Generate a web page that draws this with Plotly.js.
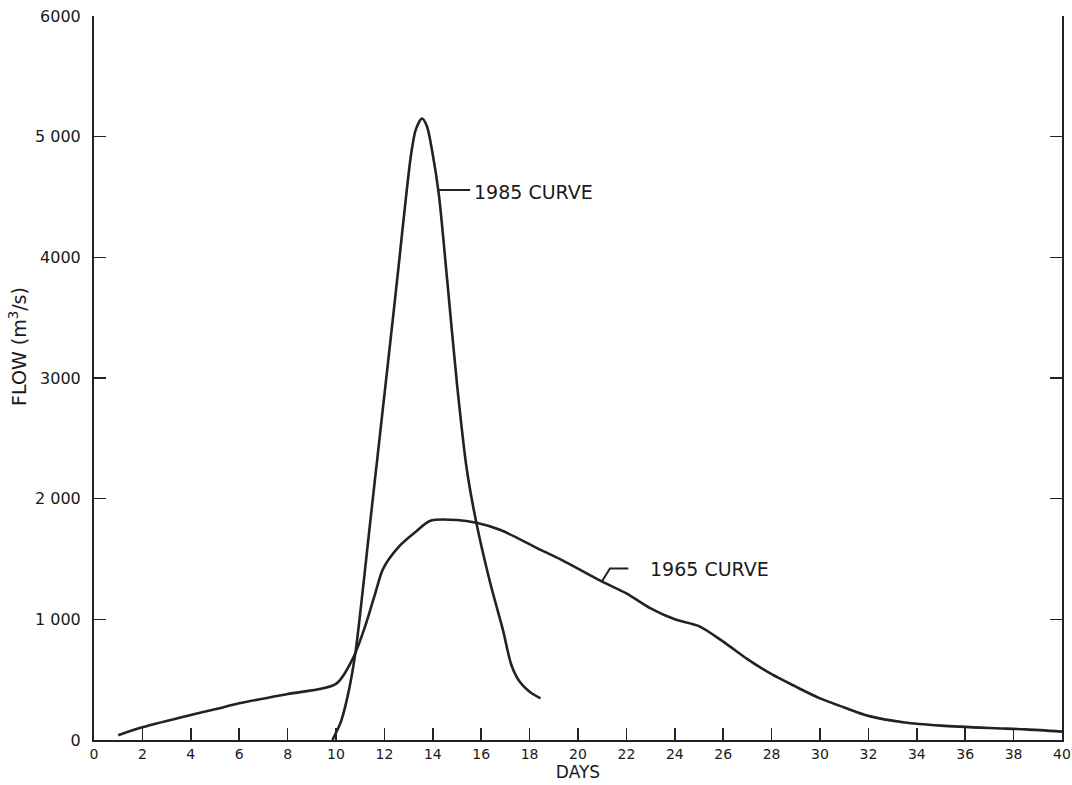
<!DOCTYPE html>
<html>
<head>
<meta charset="utf-8">
<script src="https://cdn.plot.ly/plotly-3.0.1.min.js"></script>
<style>html,body{margin:0;padding:0;background:#fff;}#chart{width:1072px;height:785px;}</style>
</head>
<body>
<div id="chart"></div>
<script>
// 1965 hydrograph (days, flow m3/s)
const days1965 = [1, 2, 4, 5, 6, 8, 10, 10.7, 11.2, 11.6, 11.95, 12.6, 13.3, 13.9, 15, 15.8, 16.8, 18.2, 19.3, 21, 22, 23, 24, 25, 26, 27, 28, 29, 30, 31, 32, 33.5, 35, 37, 38.5, 40];
const flow1965 = [40, 105, 207, 254, 304, 381, 465, 677, 940, 1200, 1420, 1602, 1726, 1817, 1823, 1800, 1740, 1601, 1495, 1312, 1215, 1091, 1000, 944, 815, 670, 545, 442, 345, 270, 200, 145, 119, 99, 88, 69];
// 1985 hydrograph
const days1985 = [9.85, 10.2, 10.5, 10.8, 11.1, 11.4, 11.7, 12.0, 12.3, 12.6, 12.85, 13.1, 13.3, 13.55, 13.75, 14.0, 14.25, 14.6, 15.0, 15.4, 15.8, 16.35, 16.9, 17.25, 17.6, 18.0, 18.45];
const flow1985 = [0, 150, 380, 720, 1230, 1780, 2320, 2860, 3400, 3950, 4420, 4850, 5060, 5150, 5090, 4850, 4520, 3800, 2950, 2250, 1800, 1320, 910, 620, 480, 400, 345];
// axis ticks
const xTicks = [0,2,4,6,8,10,12,14,16,18,20,22,24,26,28,30,32,34,36,38,40];
const yTickVals = [0, 1000, 2000, 3000, 4000, 5000, 6000];
const yTickText = ["0", "1 000", "2 000", "3000", "4000", "5 000", "6000"];
// labels
const labels = ["1985 CURVE", "1965 CURVE"];
const xTitle = "DAYS";
const yTitle = "FLOW (m<sup>3</sup>/s)";

const lineStyle = {color: '#222', width: 2.6, shape: 'spline', smoothing: 0.8};
const traces = [
  {x: days1965, y: flow1965, mode: 'lines', line: lineStyle, name: '1965', showlegend: false, hoverinfo: 'x+y'},
  {x: days1985, y: flow1985, mode: 'lines', line: lineStyle, name: '1985', showlegend: false, hoverinfo: 'x+y'}
];

const font = {family: 'DejaVu Sans, sans-serif', color: '#1a1a1a'};
const layout = {
  width: 1072, height: 785,
  margin: {l: 94, r: 10, t: 16, b: 45},
  paper_bgcolor: '#fff', plot_bgcolor: '#fff',
  showlegend: false,
  xaxis: {
    range: [0, 40], tickvals: xTicks, ticktext: xTicks.map(String),
    ticks: 'inside', ticklen: 12, tickwidth: 1.5, tickcolor: '#222',
    showline: true, linecolor: '#222', linewidth: 2, mirror: false,
    showgrid: false, zeroline: false,
    tickfont: Object.assign({size: 14}, font),
    title: {text: xTitle, font: Object.assign({size: 17}, font), standoff: 1}
  },
  yaxis: {
    range: [0, 6000], tickvals: yTickVals, ticktext: yTickText,
    ticks: 'inside', ticklen: 12, tickwidth: 1.5, tickcolor: '#222',
    showline: true, linecolor: '#222', linewidth: 2, mirror: 'ticks',
    showgrid: false, zeroline: false,
    tickfont: Object.assign({size: 16}, font),
    ticklabelstandoff: 8
  },
  shapes: [
    {type: 'line', xref: 'x', yref: 'y', x0: 14.23, y0: 4557, x1: 15.54, y1: 4557, line: {color: '#222', width: 2}},
    {type: 'path', xref: 'x', yref: 'y', path: 'M 20.98 1311 L 21.32 1422 L 22.08 1422', line: {color: '#222', width: 2}}
  ],
  annotations: [
    {x: 15.62, y: 4545, xref: 'x', yref: 'y', text: labels[0], showarrow: false, xanchor: 'left', yanchor: 'middle', font: Object.assign({size: 19}, font)},
    {x: 22.88, y: 1417, xref: 'x', yref: 'y', text: labels[1], showarrow: false, xanchor: 'left', yanchor: 'middle', font: Object.assign({size: 19}, font)},
    {x: -0.0785, y: 0.543, xref: 'paper', yref: 'paper', text: yTitle, textangle: -90, showarrow: false, xanchor: 'center', yanchor: 'middle', font: Object.assign({size: 19}, font)}
  ]
};
Plotly.newPlot('chart', traces, layout, {displayModeBar: false, staticPlot: true});
</script>
</body>
</html>
